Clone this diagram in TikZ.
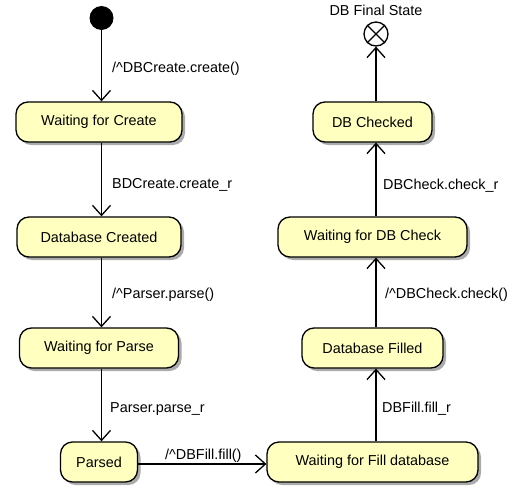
\documentclass[tikz,border=0pt]{standalone}
\usepackage{fontspec}
\setmainfont{Liberation Sans}
\usetikzlibrary{arrows.meta,shadows}

\begin{document}
\begin{tikzpicture}[x=1pt,y=-1pt,
  font=\fontsize{14.4}{16}\selectfont,
  state/.style={draw=black, line width=1.3pt, fill=stateyellow, rounded corners=12pt,
    minimum height=40pt, inner sep=0pt,
    drop shadow={shadow xshift=3pt, shadow yshift=-3pt, fill=black!55, opacity=0.6}},
  trans/.style={line width=1.3pt, -{Straight Barb[length=10pt,width=18pt,line width=1.3pt]}},
  lbl/.style={inner sep=0pt, anchor=west},
]
\definecolor{stateyellow}{RGB}{255,255,192}
\useasboundingbox (0,0) rectangle (513,492);

% initial and final pseudo-states
\node[circle, fill=black, minimum size=24pt, inner sep=0pt] (init) at (101.5,18) {};
\node[circle, draw=black, line width=1.3pt, fill=white, minimum size=24pt, inner sep=0pt] (final) at (376,34) {};
\draw[line width=1.3pt] (final.north west) -- (final.south east)
                         (final.north east) -- (final.south west);
\node[inner sep=0pt] (finallbl) at (376,10) {DB Final State};

% left column
\node[state, minimum width=166pt] (wfc)    at (99,122) {Waiting for Create};
\node[state, minimum width=164pt] (dbc)    at (99,237) {Database Created};
\node[state, minimum width=159pt] (wfp)    at (99,348) {Waiting for Parse};
\node[state, minimum width=77pt]  (parsed) at (99,462) {Parsed};

% right column
\node[state, minimum width=211pt] (wffd)  at (372.5,462) {Waiting for Fill database};
\node[state, minimum width=141pt] (dbf)   at (372.5,348) {Database Filled};
\node[state, minimum width=189pt] (wfdbc) at (372.5,237) {Waiting for DB Check};
\node[state, minimum width=119pt] (dbchk) at (372.5,122) {DB Checked};

% transitions
\draw[trans] (init) -- (init |- wfc.north);
\draw[trans] (init |- wfc.south) -- (init |- dbc.north);
\draw[trans] (init |- dbc.south) -- (init |- wfp.north);
\draw[trans] (init |- wfp.south) -- (init |- parsed.north);
\draw[trans] (parsed.east |- 0,464) -- (wffd.west |- 0,464);
\draw[trans] (final |- wffd.north) -- (final |- dbf.south);
\draw[trans] (final |- dbf.north) -- (final |- wfdbc.south);
\draw[trans] (final |- wfdbc.north) -- (final |- dbchk.south);
\draw[trans] (final |- dbchk.north) -- (final);

% transition labels
\node[lbl] (l1) at (112,69)  {/\^{}DBCreate.create()};
\node[lbl] (l2) at (112,185) {BDCreate.create\_r};
\node[lbl] (l3) at (112,295) {/\^{}Parser.parse()};
\node[lbl] (l4) at (110,409) {Parser.parse\_r};
\node[lbl] (l5) at (165,456) {/\^{}DBFill.fill()};
\node[lbl] (l6) at (382,409) {DBFill.fill\_r};
\node[lbl] (l7) at (385,295) {/\^{}DBCheck.check()};
\node[lbl] (l8) at (383,186) {DBCheck.check\_r};
\end{tikzpicture}
\end{document}
